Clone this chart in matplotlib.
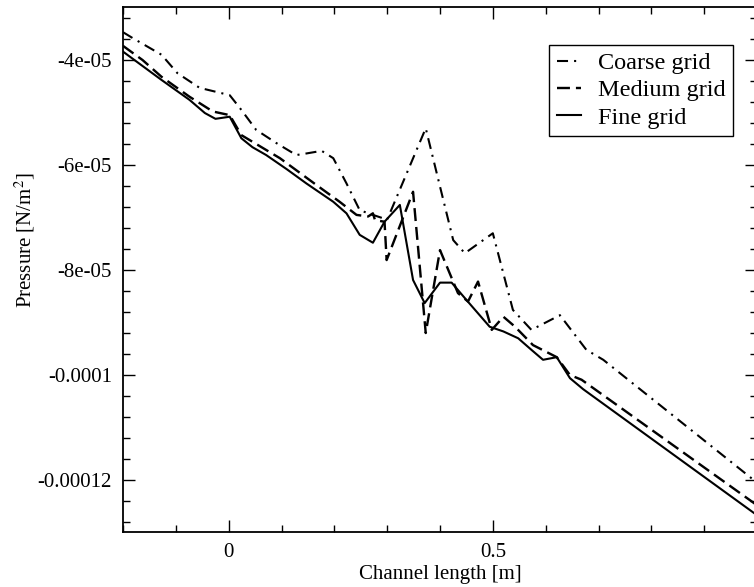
import matplotlib
matplotlib.use("Agg")
import matplotlib.pyplot as plt
from matplotlib.ticker import FixedLocator, FixedFormatter, MultipleLocator

plt.rcParams['font.family'] = ['Liberation Serif', 'DejaVu Serif']
plt.rcParams['mathtext.fontset'] = 'stix'

# ---- data (x in m, pressure in N/m^2) ----
fine_x = [-0.2, -0.127, -0.074, -0.045, -0.025, 0.002, 0.024, 0.045, 0.071, 0.11, 0.147,
          0.198, 0.223, 0.248, 0.273, 0.295, 0.324, 0.349, 0.371, 0.400, 0.422, 0.450,
          0.494, 0.520, 0.548, 0.573, 0.595, 0.621, 0.646, 0.671, 1.0]
fine_y = [-3.85e-5, -4.39e-5, -4.77e-5, -5.02e-5, -5.13e-5, -5.09e-5, -5.50e-5, -5.67e-5,
          -5.82e-5, -6.09e-5, -6.36e-5, -6.71e-5, -6.93e-5, -7.34e-5, -7.49e-5, -7.09e-5,
          -6.77e-5, -8.20e-5, -8.64e-5, -8.25e-5, -8.25e-5, -8.58e-5, -9.09e-5, -9.18e-5,
          -9.31e-5, -9.53e-5, -9.72e-5, -9.67e-5, -10.07e-5, -10.28e-5, -12.68e-5]

medium_x = [-0.2, -0.163, -0.127, -0.074, -0.030, 0.002, 0.024, 0.097, 0.166, 0.210, 0.242,
            0.264, 0.273, 0.277, 0.295, 0.299, 0.349, 0.373, 0.400, 0.434, 0.453, 0.472,
            0.498, 0.520, 0.542, 0.576, 0.621, 0.646, 0.668, 1.0]
medium_y = [-3.74e-5, -4.01e-5, -4.33e-5, -4.71e-5, -4.99e-5, -5.06e-5, -5.44e-5, -5.88e-5,
            -6.39e-5, -6.71e-5, -6.96e-5, -6.99e-5, -6.93e-5, -7.06e-5, -7.09e-5, -7.82e-5,
            -6.52e-5, -9.21e-5, -7.63e-5, -8.45e-5, -8.61e-5, -8.23e-5, -9.15e-5, -8.90e-5,
            -9.09e-5, -9.44e-5, -9.67e-5, -10.01e-5, -10.10e-5, -12.49e-5]

coarse_x = [-0.2, -0.182, -0.127, -0.097, -0.055, -0.014, 0.002, 0.024, 0.052, 0.090, 0.128,
            0.147, 0.176, 0.198, 0.223, 0.248, 0.273, 0.300, 0.373, 0.400, 0.425, 0.447,
            0.500, 0.538, 0.573, 0.627, 0.677, 0.709, 1.0]
coarse_y = [-3.48e-5, -3.59e-5, -3.91e-5, -4.26e-5, -4.54e-5, -4.64e-5, -4.68e-5, -4.96e-5,
            -5.34e-5, -5.59e-5, -5.82e-5, -5.79e-5, -5.74e-5, -5.88e-5, -6.36e-5, -6.87e-5,
            -6.96e-5, -7.05e-5, -5.31e-5, -6.42e-5, -7.44e-5, -7.69e-5, -7.31e-5, -8.77e-5,
            -9.15e-5, -8.87e-5, -9.53e-5, -9.72e-5, -12.06e-5]

series_labels = ["Coarse grid", "Medium grid", "Fine grid"]
x_ticks = [0, 0.5]
x_ticklabels = ["0", "0.5"]
y_ticks = [-4e-5, -6e-5, -8e-5, -1e-4, -1.2e-4]
y_ticklabels = ["-4e-05", "-6e-05", "-8e-05", "-0.0001", "-0.00012"]

W, H = 754, 587
fig = plt.figure(figsize=(W / 100, H / 100), dpi=100)
ax = fig.add_axes([123 / W, (H - 532) / H, 634 / W, 525 / H])

lw = 1.5
ax.plot(coarse_x, coarse_y, color='black', lw=lw, dashes=(5.3, 2.9, 1.0, 2.9),
        label=series_labels[0])
ax.plot(medium_x, medium_y, color='black', lw=lw * 1.15, dashes=(5.4, 2.5),
        label=series_labels[1])
ax.plot(fine_x, fine_y, color='black', lw=lw, label=series_labels[2])

ax.set_xlim(-0.2, 1.0)
ax.set_ylim(-1.3e-4, -3e-5)

ax.xaxis.set_major_locator(FixedLocator(x_ticks))
ax.xaxis.set_major_formatter(FixedFormatter(x_ticklabels))
ax.xaxis.set_minor_locator(MultipleLocator(0.1))
ax.yaxis.set_major_locator(FixedLocator(y_ticks))
ax.yaxis.set_major_formatter(FixedFormatter(y_ticklabels))
ax.yaxis.set_minor_locator(MultipleLocator(4e-6))

ax.tick_params(which='both', direction='in', top=True, right=True, width=1.0,
               labelsize=15, pad=8)
ax.tick_params(which='major', length=8.5)
ax.tick_params(which='minor', length=5)
for s in ax.spines.values():
    s.set_linewidth(1.3)

ax.set_xlabel("Channel length [m]", fontsize=15, labelpad=2)
fig.text(25 / W, 1 - 240 / H, r"Pressure [N/m$^2$]", rotation=90, fontsize=15,
         ha='center', va='center')

leg = ax.legend(loc='upper right', bbox_to_anchor=(0.962, 0.928), fontsize=17.5,
                frameon=True, fancybox=False, framealpha=1, edgecolor='black',
                handlelength=1.0, handletextpad=0.7, labelspacing=0.22,
                borderpad=0.3, borderaxespad=0)
leg.get_frame().set_linewidth(1.0)

fig.savefig("out.png", dpi=100)
